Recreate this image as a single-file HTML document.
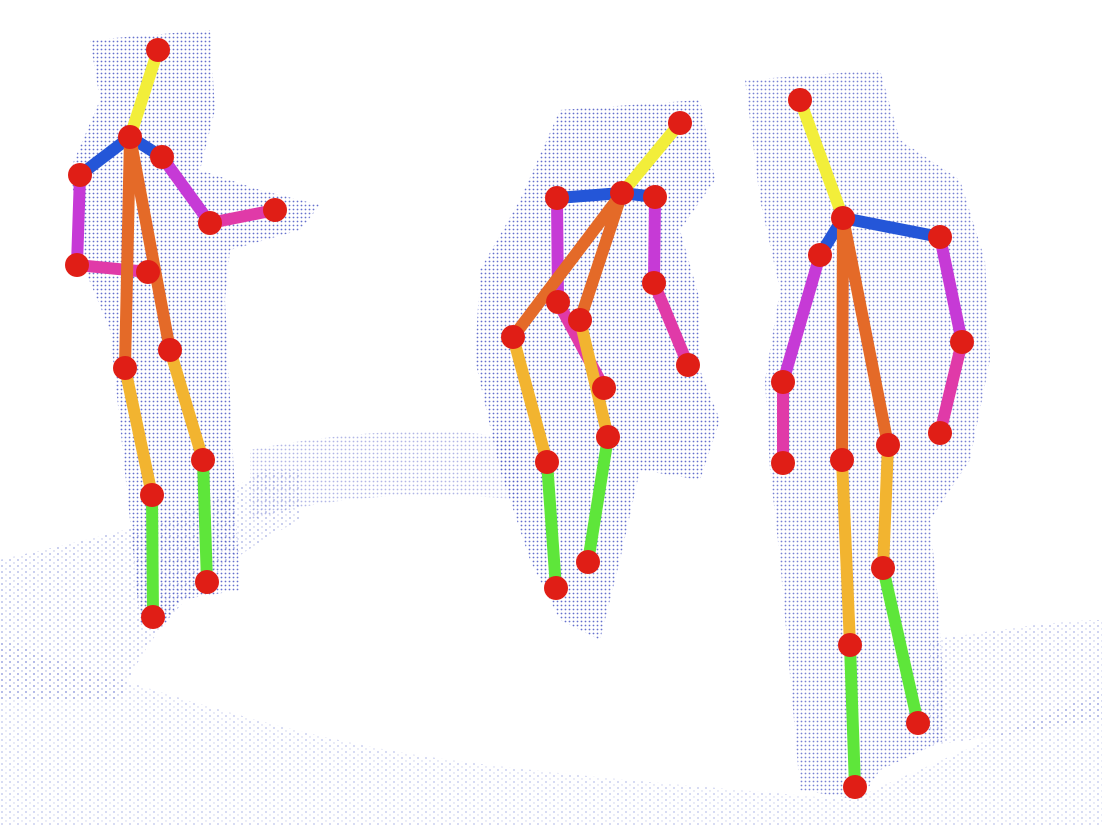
<!DOCTYPE html>
<html><head><meta charset="utf-8"><style>
html,body{margin:0;padding:0;background:#fff;}
svg{display:block;}
</style></head>
<body>
<svg id="scene" width="1102" height="826" viewBox="0 0 1102 826" xmlns="http://www.w3.org/2000/svg">
<defs>
<pattern id="dots" width="4" height="4" patternUnits="userSpaceOnUse">
<circle cx="1.5" cy="1.5" r="0.9" fill="#3e4cc0"/>
</pattern>
<pattern id="dotsSparse" width="8" height="6" patternUnits="userSpaceOnUse">
<circle cx="2" cy="2" r="0.9" fill="#6a78d0"/>
<circle cx="6" cy="5" r="0.7" fill="#8a94d8"/>
</pattern>
</defs>
<g id="cloud">
<path d="M0,560 C80,540 200,520 260,470 L300,470 L300,520 C220,560 150,620 120,700 L0,700 Z" fill="url(#dotsSparse)" opacity="0.6"/>
<path d="M250,450 C350,430 450,425 520,440 L520,500 C430,490 330,495 250,520 Z" fill="url(#dots)" opacity="0.4"/>
<path d="M0,640 C150,690 300,740 450,760 C600,780 750,790 850,800 L1102,690 L1102,826 L0,826 Z" fill="url(#dotsSparse)" opacity="0.45"/>
<path d="M930,640 C1000,630 1060,620 1102,620 L1102,720 C1030,730 980,740 930,745 Z" fill="url(#dotsSparse)" opacity="0.55"/>
<path d="M90,40 L210,30 L215,110 L200,170 L260,190 L320,205 L300,230 L230,250 L225,300 L240,590 L180,600 L165,625 L140,625 L130,520 L110,330 L85,270 L70,170 L100,100 Z" fill="url(#dots)" opacity="0.8"/>
<path d="M560,110 L700,100 L715,180 L680,230 L700,300 L700,370 L720,420 L700,480 L640,470 L620,560 L600,640 L560,620 L530,560 L500,470 L475,360 L480,270 L520,200 Z" fill="url(#dots)" opacity="0.8"/>
<path d="M745,80 L880,70 L900,140 L960,180 L985,260 L990,360 L970,460 L930,520 L940,620 L945,740 L880,770 L860,800 L800,790 L780,560 L770,470 L765,380 L780,290 L760,200 Z" fill="url(#dots)" opacity="0.7"/>
</g>
<g id="skeletons"></g>
</svg>
<script>
// keypoint order: head, neck, lShoulder, rShoulder, lElbow, rElbow, lWrist, rWrist, lHip, rHip, lKnee, rKnee, lAnkle, rAnkle
const p1x = [158,130,80,162,77,210,148,275,125,170,152,203,153,207];
const p1y = [50,137,175,157,265,223,272,210,368,350,495,460,617,582];
const p2x = [680,622,557,655,558,654,604,688,513,580,547,608,556,588];
const p2y = [123,193,198,197,302,283,388,365,337,320,462,437,588,562];
const p3x = [800,843,820,940,783,962,783,940,842,888,850,883,855,918];
const p3y = [100,218,255,237,382,342,463,433,460,445,645,568,787,723];
const edges = [[0,1],[1,2],[1,3],[2,4],[3,5],[4,6],[5,7],[1,8],[1,9],[8,10],[9,11],[10,12],[11,13]];
const edgeColors = ["#f2ee3a","#2456d8","#2456d8","#c63ad6","#c63ad6","#e03aa8","#e03aa8","#e46a28","#e46a28","#f2b430","#f2b430","#5ee63a","#5ee63a"];
const people = [[p1x,p1y],[p2x,p2y],[p3x,p3y]];
const NS = "http://www.w3.org/2000/svg";
const root = document.getElementById('skeletons');
people.forEach(function(p, pi){
  const g = document.createElementNS(NS,'g');
  
  
  edges.forEach(function(e, ei){
    const l = document.createElementNS(NS,'line');
    l.setAttribute('x1', p[0][e[0]]); l.setAttribute('y1', p[1][e[0]]);
    l.setAttribute('x2', p[0][e[1]]); l.setAttribute('y2', p[1][e[1]]);
    l.setAttribute('stroke', edgeColors[ei]); l.setAttribute('stroke-width', 12);
    l.setAttribute('stroke-linecap', 'round');
    
    
    g.appendChild(l);
  });
  for (let i = 0; i < p[0].length; i++) {
    const c = document.createElementNS(NS,'circle');
    c.setAttribute('cx', p[0][i]); c.setAttribute('cy', p[1][i]); c.setAttribute('r', 12);
    c.setAttribute('fill', '#e01e16');
    
    
    g.appendChild(c);
  }
  root.appendChild(g);
});
</script>
</body></html>
